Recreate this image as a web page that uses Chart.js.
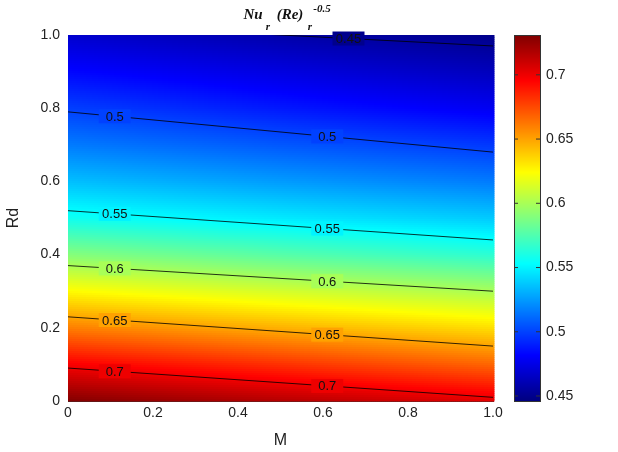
<!DOCTYPE html>
<html>
<head>
<meta charset="utf-8">
<script src="https://cdn.jsdelivr.net/npm/chart.js@4"></script>
<style>
  body { margin: 0; background: #fff; }
  #wrap { width: 618px; height: 452px; }
</style>
</head>
<body>
<div id="wrap"><canvas id="c" width="618" height="452"></canvas></div>
<script>
// Field: Nu at three M columns, Rd rows 0..1
const mGrid = [0, 0.5, 1];
const rdGrid = [0, 0.1, 0.2, 0.3, 0.4, 0.5, 0.6, 0.7, 0.8, 0.9, 1.0];
const nuAtM0 = [0.730, 0.697, 0.660, 0.625, 0.590, 0.557, 0.535, 0.516, 0.499, 0.483, 0.468];
const nuAtM05 = [0.716, 0.682, 0.646, 0.612, 0.577, 0.547, 0.525, 0.506, 0.488, 0.473, 0.458];
const nuAtM1 = [0.703, 0.667, 0.633, 0.600, 0.565, 0.538, 0.516, 0.497, 0.478, 0.463, 0.449];

// Contour lines: level and Rd where it crosses M=0 and M=1
const levels = [0.45, 0.5, 0.55, 0.6, 0.65, 0.7];
const rdAtM0 = [1.03, 0.79, 0.52, 0.37, 0.23, 0.09];
const rdAtM1 = [0.97, 0.68, 0.44, 0.30, 0.15, 0.01];
// label positions along M
const labelM = [[0.66], [0.11, 0.61], [0.11, 0.61], [0.11, 0.61], [0.11, 0.61], [0.11, 0.61]];

const cbMin = 0.4461, cbMax = 0.731;
const cbTicks = [0.45, 0.5, 0.55, 0.6, 0.65, 0.7];

const columns = [nuAtM0, nuAtM05, nuAtM1];

function jet(t) {
    t = Math.max(0, Math.min(1, t));
    const c = v => Math.round(255 * Math.max(0, Math.min(1, v)));
    return [c(1.5 - Math.abs(4 * t - 3)), c(1.5 - Math.abs(4 * t - 2)), c(1.5 - Math.abs(4 * t - 1))];
}

function lerpArr(arr, x) {
    const i = Math.min(arr.length - 2, Math.max(0, Math.floor(x)));
    const f = x - i;
    return arr[i] * (1 - f) + arr[i + 1] * f;
}

function field(m, rd) {
    const ry = rd / 0.1;
    const col = m / 0.5;
    const i = Math.min(1, Math.max(0, Math.floor(col)));
    const f = col - i;
    return lerpArr(columns[i], ry) * (1 - f) + lerpArr(columns[i + 1], ry) * f;
}

const heatmap = {
    id: 'heatmap',
    beforeDatasetsDraw(chart) {
        const { ctx, chartArea: a, scales } = chart;
        const step = 2;
        for (let px = a.left; px < a.right; px += step) {
            for (let py = a.top; py < a.bottom; py += step) {
                const m = scales.x.getValueForPixel(px + step / 2);
                const rd = scales.y.getValueForPixel(py + step / 2);
                const rgb = jet((field(m, rd) - cbMin) / (cbMax - cbMin));
                ctx.fillStyle = `rgb(${rgb[0]},${rgb[1]},${rgb[2]})`;
                ctx.fillRect(px, py, step + 0.5, step + 0.5);
            }
        }
    },
    afterDatasetsDraw(chart) {
        const { ctx, chartArea: a, scales } = chart;
        ctx.save();
        ctx.font = '13px "Liberation Sans", Arial, sans-serif';
        ctx.textAlign = 'center';
        ctx.textBaseline = 'middle';
        levels.forEach((lv, k) => {
            labelM[k].forEach(m => {
                const rd = rdAtM0[k] + (rdAtM1[k] - rdAtM0[k]) * m;
                const x = scales.x.getPixelForValue(m), y = scales.y.getPixelForValue(rd);
                const t = (lv - cbMin) / (cbMax - cbMin);
                const rgb = jet(t);
                ctx.fillStyle = `rgb(${rgb[0]},${rgb[1]},${rgb[2]})`;
                ctx.fillRect(x - 16, y - 7, 32, 14);
                ctx.fillStyle = '#111';
                ctx.fillText(String(lv), x, y + 1);
            });
        });
        // colorbar
        const cx = 514, cw = 26, top = a.top, bot = a.bottom;
        for (let y = top; y < bot; y++) {
            const v = cbMin + (cbMax - cbMin) * (bot - y - 0.5) / (bot - top);
            const rgb = jet((v - cbMin) / (cbMax - cbMin));
            ctx.fillStyle = `rgb(${rgb[0]},${rgb[1]},${rgb[2]})`;
            ctx.fillRect(cx, y, cw, 1.2);
        }
        ctx.strokeStyle = '#333';
        ctx.lineWidth = 1;
        ctx.strokeRect(cx + 0.5, top + 0.5, cw, bot - top);
        ctx.textAlign = 'left';
        ctx.font = '14px "Liberation Sans", Arial, sans-serif';
        cbTicks.forEach(v => {
            const y = bot - (v - cbMin) / (cbMax - cbMin) * (bot - top);
            ctx.beginPath();
            ctx.moveTo(cx + cw - 4, y); ctx.lineTo(cx + cw, y);
            ctx.moveTo(cx, y); ctx.lineTo(cx + 4, y);
            ctx.stroke();
            ctx.fillStyle = '#222';
            ctx.fillText(String(v), cx + cw + 6, y);
        });
        // title
        ctx.textAlign = 'center';
        ctx.fillStyle = '#111';
        ctx.font = 'italic bold 15px "Liberation Serif", serif';
        ctx.fillText('Nu', 253, 15);
        ctx.fillText('(Re)', 290, 15);
        ctx.font = 'italic bold 11px "Liberation Serif", serif';
        ctx.fillText('r', 268, 27);
        ctx.fillText('r', 310, 27);
        ctx.fillText('-0.5', 322, 9);
        ctx.restore();
    }
};

const lineSets = levels.map((lv, k) => ({
    label: String(lv),
    data: [{ x: 0, y: rdAtM0[k] }, { x: 1, y: rdAtM1[k] }],
    borderColor: '#000',
    borderWidth: 0.8,
    pointRadius: 0,
    showLine: true,
    fill: false
}));

new Chart(document.getElementById('c'), {
    type: 'scatter',
    data: { datasets: lineSets },
    options: {
        responsive: false,
        animation: false,
        clip: 0,
        layout: { padding: { top: 35, right: 125, left: 0, bottom: 0 } },
        plugins: { legend: { display: false }, tooltip: { enabled: false } },
        scales: {
            x: {
                min: 0, max: 1,
                afterFit: s => { s.height = 51; },
                ticks: { stepSize: 0.2, color: '#222', font: { size: 14, family: 'Liberation Sans' }, padding: 4 },
                grid: { display: false, drawTicks: false },
                border: { color: '#333' },
                title: { display: true, text: 'M', color: '#222', font: { size: 16, family: 'Liberation Sans' }, padding: 2 }
            },
            y: {
                min: 0, max: 1,
                afterFit: s => { s.width = 68; },
                ticks: { stepSize: 0.2, color: '#222', font: { size: 14, family: 'Liberation Sans' }, padding: 8 },
                grid: { display: false, drawTicks: false },
                border: { color: '#333' },
                title: { display: true, text: 'Rd', color: '#222', font: { size: 16, family: 'Liberation Sans' }, padding: 4 }
            }
        }
    },
    plugins: [heatmap]
});
</script>
</body>
</html>
